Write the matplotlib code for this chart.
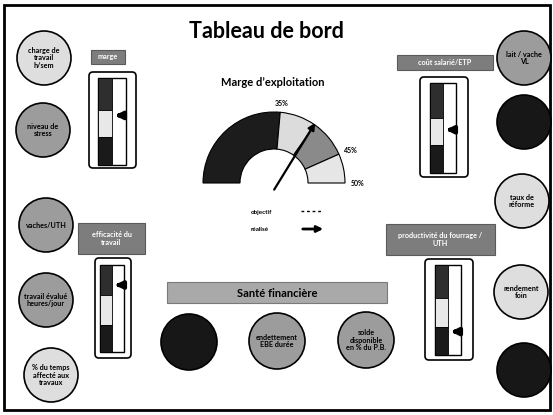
import numpy as np
import matplotlib
matplotlib.use('Agg')
import matplotlib.pyplot as plt
from matplotlib.patches import Circle, Wedge, Rectangle, FancyBboxPatch

plt.rcParams['font.family'] = ['Lato', 'DejaVu Sans']

# gauge: shares of the half dial (left to right), labels at segment ends
gauge_shares = [0.528, 0.167, 0.172, 0.133]
gauge_colors = ['#1c1c1c', '#dcdcdc', '#8a8a8a', '#e6e6e6']
gauge_labels = ['35%', '', '45%', '50%']
needle_pos = 0.68   # fraction of dial, from the left

# thermometers: strip segments top->bottom, arrow level (fraction from bottom)
thermo_titles = ['marge', 'efficacité du\ntravail', 'coût salarié/ETP', 'productivité du fourrage /\nUTH']
thermo_segments = [[0.37, 0.31, 0.32], [0.34, 0.35, 0.31], [0.39, 0.30, 0.31], [0.37, 0.32, 0.31]]
thermo_arrow = [0.57, 0.77, 0.48, 0.26]

# indicator circles
left_labels = ['charge de\ntravail\nh/sem', 'niveau de\nstress', 'vaches/UTH', 'travail évalué\nheures/jour', '% du temps\naffecté aux\ntravaux']
left_tones = ['light', 'mid', 'mid', 'mid', 'light']
right_labels = ['lait / vache\nVL', '', 'taux de\nréforme', 'rendement\nfoin', '']
right_tones = ['mid', 'dark', 'light', 'light', 'dark']
fin_labels = ['', 'endettement\nEBE durée', 'solde\ndisponible\nen % du P.B.']
fin_tones = ['dark', 'mid', 'mid']

tone_color = {'light': '#dedede', 'mid': '#9c9c9c', 'dark': '#171717'}

fig = plt.figure(figsize=(5.53, 4.15), dpi=100)
ax = fig.add_axes([0, 0, 1, 1])
ax.set_xlim(0, 553)
ax.set_ylim(415, 0)
ax.axis('off')

# frame
ax.add_patch(Rectangle((4, 5), 546, 405, fill=False, ec='black', lw=2))

ax.text(266, 32, 'Tableau de bord', ha='center', va='center', fontsize=15.5, fontweight='bold')
ax.text(273, 83, 'Marge d\u2019exploitation', ha='center', va='center', fontsize=8, fontweight='bold')

# gauge (y axis is inverted -> negate screen angles)
cx, cy, r_out, r_in = 274, 183, 71, 34
start = 180.0
for share, col, lab in zip(gauge_shares, gauge_colors, gauge_labels):
    end = start - share * 180
    ax.add_patch(Wedge((cx, cy), r_out, -start, -end, width=r_out - r_in,
                       fc=col, ec='black', lw=0.8))
    if lab:
        a = np.radians(end)
        ax.text(cx + 84 * np.cos(a), cy - 80 * np.sin(a), lab, ha='center', va='center',
                fontsize=5, fontweight='bold')
    start = end
a = np.radians(180 - needle_pos * 180)
ax.annotate('', xy=(cx + 3 + 74 * np.cos(a), cy - 74 * np.sin(a)),
            xytext=(cx + 3 - 8 * np.cos(a), cy + 9),
            arrowprops=dict(arrowstyle='-|>', color='black', lw=1.6, mutation_scale=10))

# legend
ax.text(251, 212, 'objectif', ha='left', va='center', fontsize=4.5, fontweight='bold')
ax.plot([301, 323], [211, 211], color='black', lw=1, ls=(0, (2, 2)))
ax.text(251, 229, 'réalisé', ha='left', va='center', fontsize=4.5, fontweight='bold')
ax.annotate('', xy=(326, 229), xytext=(300, 229),
            arrowprops=dict(arrowstyle='-|>', color='black', lw=2, mutation_scale=9))

# thermometers: (outer x, outer y, outer w, outer h), label box (x, y, w, h)
thermo_boxes = [(89, 72, 47, 96), (95, 258, 36, 100), (420, 77, 48, 100), (425, 259, 48, 101)]
label_boxes = [(91, 50, 34, 14), (78, 223, 67, 31), (397, 55, 96, 15), (386, 224, 109, 31)]
strip_boxes = [(98, 78, 14, 87), (100, 265, 12, 87), (430, 83, 13, 90), (435, 265, 13, 90)]
seg_cols = ['#2e2e2e', '#e8e8e8', '#1a1a1a']
for i in range(4):
    ox, oy, ow, oh = thermo_boxes[i]
    ax.add_patch(FancyBboxPatch((ox + 4, oy + 4), ow - 8, oh - 8,
                                boxstyle='round,pad=4', fc='white', ec='black', lw=1.2))
    sx, sy, sw, sh = strip_boxes[i]
    ax.add_patch(Rectangle((sx, sy), sw * 2, sh, fc='white', ec='black', lw=1))
    y = sy
    for frac, col in zip(thermo_segments[i], seg_cols):
        ax.add_patch(Rectangle((sx, y), sw, frac * sh, fc=col, ec='black', lw=0.6))
        y += frac * sh
    ay = sy + sh - thermo_arrow[i] * sh
    ax.annotate('', xy=(sx + sw, ay), xytext=(sx + 2 * sw, ay),
                arrowprops=dict(arrowstyle='-|>', color='black', lw=3, mutation_scale=10))
    lx, ly, lw_, lh = label_boxes[i]
    ax.add_patch(Rectangle((lx, ly), lw_, lh, fc='#7d7d7d', ec='#5a5a5a', lw=0.8))
    ax.text(lx + lw_ / 2, ly + lh / 2, thermo_titles[i], ha='center', va='center',
            fontsize=5.2, fontweight='bold', color='white', linespacing=1.1)

# circles
def draw_circles(centers, labels, tones, r=27):
    for (x, y), lab, tone in zip(centers, labels, tones):
        ax.add_patch(Circle((x, y), r, fc=tone_color[tone], ec='black', lw=1.2))
        if lab:
            ax.text(x, y, lab, ha='center', va='center', fontsize=5.2,
                    fontweight='bold', color='black', linespacing=1.15)

draw_circles([(44, 58), (43, 130), (46, 225), (46, 300), (51, 375)], left_labels, left_tones)
draw_circles([(524, 58), (524, 122), (522, 201), (521, 292), (524, 370)], right_labels, right_tones)

# financial health
ax.add_patch(Rectangle((167, 282), 220, 21, fc='#a9a9a9', ec='#7a7a7a', lw=0.8))
ax.text(277, 293, 'Santé financière', ha='center', va='center', fontsize=8, fontweight='bold')
draw_circles([(189, 342), (277, 341), (366, 340)], fin_labels, fin_tones, r=28)

fig.savefig('out.png', dpi=100, facecolor='white')
